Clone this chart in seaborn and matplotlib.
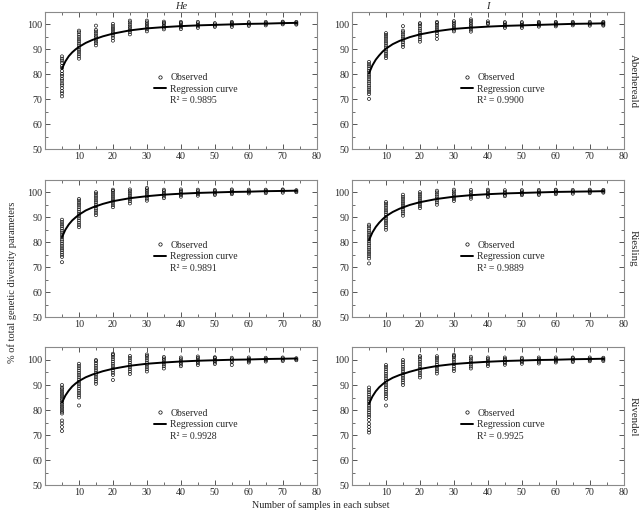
import pandas as pd
import seaborn as sns
import matplotlib.pyplot as plt
from matplotlib.lines import Line2D

# ===============================
# DATA
# ===============================
x_subset = [5, 10, 15, 20, 25, 30, 35, 40, 45, 50, 55, 60, 65, 70, 74]
x_curve = [5, 6, 7, 8, 9, 10, 12, 14, 17, 20, 25, 30, 35, 40, 45, 50, 55, 60, 65, 70, 74]

col_titles = ["He", "I"]
row_labels = ["Aberhereald", "Riesling", "Rivendel"]

# observed values per subset size (one list per x in x_subset)
he_aber_obs = [
    [71.2, 72.4, 73.3, 74.5, 75.6, 76.4, 77.5, 78.3, 79.4, 80.2, 81.3, 82.5, 83.4, 84.6, 85.5, 86.3, 87.2],
    [86.3, 87.2, 88.1, 89.0, 89.8, 90.7, 91.6, 92.4, 93.3, 94.1, 95.0, 95.9, 96.8, 97.5],
    [91.6, 92.5, 93.2, 94.0, 94.8, 95.5, 96.3, 97.1, 97.8, 99.5],
    [93.5, 94.6, 95.5, 96.3, 97.0, 97.8, 98.5, 99.3, 100.2],
    [96.0, 96.9, 97.7, 98.5, 99.2, 100.0, 100.8, 101.5],
    [97.2, 98.0, 98.7, 99.4, 100.1, 100.8, 101.5],
    [98.0, 98.7, 99.3, 100.0, 100.6, 101.1],
    [98.1, 98.8, 99.4, 100.0, 100.6, 101.0],
    [98.6, 99.2, 99.8, 100.4, 101.0],
    [99.0, 99.5, 100.0, 100.5],
    [99.0, 99.6, 100.1, 100.6, 101.0],
    [99.4, 99.9, 100.4, 100.9],
    [99.6, 100.1, 100.6, 101.0],
    [100.0, 100.4, 100.8, 101.1],
    [99.9, 100.3, 100.7, 101.0],
]
i_aber_obs = [
    [70.2, 72.1, 73.0, 73.8, 74.7, 75.5, 76.4, 77.2, 78.1, 79.0, 79.8, 80.7, 81.5, 82.4, 83.3, 84.1, 85.0],
    [86.5, 87.4, 88.2, 89.1, 89.9, 90.8, 91.6, 92.5, 93.3, 94.2, 95.0, 95.8, 96.5],
    [91.0, 91.9, 92.8, 93.6, 94.4, 95.2, 96.0, 96.8, 97.5, 99.3],
    [93.1, 94.0, 94.9, 95.8, 96.6, 97.5, 98.3, 99.2, 100.0, 100.5],
    [94.2, 95.5, 96.5, 97.3, 98.1, 98.9, 99.7, 100.5, 101.0],
    [97.2, 97.9, 98.6, 99.3, 100.0, 100.7, 101.3],
    [97.1, 97.9, 98.6, 99.3, 100.0, 100.7, 101.4, 102.0],
    [100.1, 100.6, 101.2],
    [98.6, 99.2, 99.8, 100.4, 100.9],
    [98.6, 99.2, 99.8, 100.4, 100.9],
    [99.1, 99.6, 100.1, 100.6, 101.0],
    [99.2, 99.7, 100.2, 100.7, 101.0],
    [99.6, 100.1, 100.6, 101.0],
    [99.5, 100.0, 100.5, 101.0],
    [99.5, 99.9, 100.3, 100.7, 101.0],
]
he_ries_obs = [
    [72.0, 74.1, 75.0, 75.9, 76.8, 77.6, 78.5, 79.4, 80.3, 81.1, 82.0, 82.9, 83.8, 84.6, 85.5, 86.4, 87.2, 88.1, 89.0],
    [86.0, 86.9, 87.8, 88.7, 89.6, 90.5, 91.3, 92.2, 93.1, 94.0, 94.9, 95.7, 96.6, 97.3],
    [90.8, 91.7, 92.6, 93.4, 94.3, 95.1, 96.0, 96.8, 97.7, 98.5, 99.4, 100.0],
    [94.0, 94.8, 95.7, 96.5, 97.3, 98.1, 98.9, 99.7, 100.5, 101.0],
    [95.5, 96.4, 97.2, 98.0, 98.8, 99.6, 100.4, 101.1],
    [96.6, 97.4, 98.2, 98.9, 99.7, 100.4, 101.1, 101.7],
    [97.6, 98.3, 99.0, 99.7, 100.4, 101.0],
    [98.2, 98.8, 99.4, 100.0, 100.6, 101.1],
    [98.6, 99.2, 99.8, 100.4, 101.0],
    [98.9, 99.4, 99.9, 100.4, 100.9],
    [99.2, 99.7, 100.2, 100.7, 101.1],
    [99.5, 100.0, 100.5, 101.0],
    [99.6, 100.1, 100.6, 101.0],
    [99.8, 100.3, 100.8, 101.1],
    [100.0, 100.4, 100.8],
]
i_ries_obs = [
    [71.5, 73.5, 74.4, 75.3, 76.1, 77.0, 77.8, 78.7, 79.5, 80.4, 81.2, 82.1, 82.9, 83.8, 84.6, 85.5, 86.3, 87.0],
    [85.0, 85.9, 86.8, 87.7, 88.5, 89.4, 90.2, 91.1, 92.0, 92.8, 93.7, 94.6, 95.4, 96.1],
    [90.6, 91.5, 92.3, 93.1, 94.0, 94.8, 95.6, 96.4, 97.3, 98.1, 99.0],
    [93.6, 94.4, 95.2, 96.0, 96.8, 97.6, 98.4, 99.2, 100.0],
    [95.0, 95.9, 96.7, 97.5, 98.3, 99.1, 99.9, 100.6],
    [96.5, 97.3, 98.0, 98.8, 99.5, 100.3, 101.0],
    [97.4, 98.1, 98.8, 99.5, 100.2, 100.9],
    [98.0, 98.6, 99.2, 99.8, 100.4, 101.0],
    [98.4, 99.0, 99.6, 100.2, 100.8],
    [98.8, 99.3, 99.8, 100.3, 100.8],
    [98.9, 99.4, 99.9, 100.4, 100.9],
    [99.2, 99.7, 100.2, 100.7, 101.0],
    [99.4, 99.9, 100.4, 100.9],
    [99.6, 100.1, 100.6, 101.0],
    [99.8, 100.2, 100.6, 100.9],
]
he_riv_obs = [
    [71.6, 73.2, 74.6, 75.8, 78.6, 79.3, 80.0, 80.8, 81.5, 82.3, 83.0, 83.8, 84.5, 85.3, 86.0, 86.8, 87.5, 88.3, 89.0, 90.0],
    [81.8, 85.0, 85.9, 86.8, 87.7, 88.6, 89.5, 90.4, 91.3, 92.2, 93.1, 94.0, 94.9, 95.8, 96.7, 97.6, 98.5],
    [90.5, 91.4, 92.3, 93.2, 94.1, 95.0, 95.9, 96.8, 97.7, 98.6, 99.5, 100.0],
    [92.0, 94.0, 94.9, 95.8, 96.7, 97.6, 98.5, 99.4, 100.3, 101.2, 102.0, 102.5],
    [94.4, 95.4, 96.3, 97.2, 98.1, 99.0, 99.9, 100.8, 101.6],
    [95.4, 96.3, 97.2, 98.1, 99.0, 99.9, 100.8, 101.6, 102.2],
    [96.6, 97.5, 98.3, 99.1, 99.9, 100.6, 101.2],
    [97.5, 98.2, 98.9, 99.6, 100.3, 101.0],
    [98.0, 98.7, 99.4, 100.1, 100.8, 101.4],
    [98.4, 99.0, 99.6, 100.2, 100.8, 101.1],
    [98.0, 99.1, 99.7, 100.3, 100.9],
    [99.0, 99.5, 100.0, 100.5, 101.0],
    [99.4, 99.9, 100.4, 100.9],
    [99.6, 100.1, 100.6, 101.0],
    [99.9, 100.3, 100.7],
]
i_riv_obs = [
    [71.0, 72.0, 73.3, 74.5, 76.0, 77.2, 78.1, 79.0, 79.9, 80.8, 81.7, 82.6, 83.5, 84.4, 85.3, 86.2, 87.1, 88.0, 89.0],
    [81.8, 84.5, 85.5, 86.4, 87.3, 88.2, 89.1, 90.0, 90.9, 91.8, 92.7, 93.6, 94.5, 95.4, 96.3, 97.2, 98.0],
    [90.0, 91.0, 91.9, 92.8, 93.7, 94.6, 95.5, 96.4, 97.3, 98.2, 99.1, 100.0],
    [93.0, 93.9, 94.8, 95.7, 96.6, 97.5, 98.4, 99.3, 100.2, 101.0, 101.6],
    [94.6, 95.5, 96.4, 97.3, 98.2, 99.1, 100.0, 100.8, 101.5],
    [95.6, 96.5, 97.4, 98.3, 99.2, 100.1, 101.0, 101.6, 102.1],
    [96.6, 97.4, 98.2, 99.0, 99.8, 100.6, 101.3],
    [97.6, 98.3, 99.0, 99.7, 100.4, 101.0],
    [98.1, 98.7, 99.3, 99.9, 100.5, 101.0],
    [98.5, 99.1, 99.7, 100.3, 100.9],
    [98.6, 99.2, 99.8, 100.4, 101.0],
    [99.0, 99.5, 100.0, 100.5, 101.0],
    [99.2, 99.7, 100.2, 100.7, 101.0],
    [99.5, 100.0, 100.5, 101.0],
    [99.6, 100.1, 100.5, 100.9],
]

# fitted regression curves (values at x_curve)
he_aber_fit = [82.3, 85.2, 87.3, 88.8, 90.0, 91.0, 92.6, 93.8, 95.2, 96.3, 97.6, 98.4, 98.9, 99.3, 99.6, 99.8, 100.0, 100.2, 100.3, 100.5, 100.6]
i_aber_fit = [80.4, 83.6, 85.9, 87.6, 89.1, 90.3, 92.1, 93.4, 94.9, 96.0, 97.3, 98.2, 98.7, 99.1, 99.4, 99.6, 99.8, 100.0, 100.2, 100.3, 100.4]
he_ries_fit = [82.0, 85.0, 87.1, 88.7, 89.9, 91.0, 92.7, 93.9, 95.3, 96.4, 97.6, 98.4, 99.0, 99.4, 99.7, 99.9, 100.1, 100.2, 100.4, 100.5, 100.6]
i_ries_fit = [80.8, 83.9, 86.1, 87.8, 89.2, 90.4, 92.1, 93.4, 94.9, 96.0, 97.3, 98.2, 98.8, 99.2, 99.5, 99.7, 99.9, 100.1, 100.2, 100.3, 100.4]
he_riv_fit = [83.0, 85.8, 87.8, 89.4, 90.6, 91.6, 93.1, 94.2, 95.5, 96.5, 97.7, 98.5, 99.0, 99.4, 99.7, 99.9, 100.1, 100.2, 100.4, 100.5, 100.6]
i_riv_fit = [82.5, 85.4, 87.5, 89.1, 90.3, 91.4, 92.9, 94.0, 95.3, 96.4, 97.6, 98.4, 98.9, 99.3, 99.6, 99.8, 100.0, 100.1, 100.3, 100.4, 100.5]

r2_values = [["0.9895", "0.9900"], ["0.9891", "0.9889"], ["0.9928", "0.9925"]]

obs_grid = [[he_aber_obs, i_aber_obs], [he_ries_obs, i_ries_obs], [he_riv_obs, i_riv_obs]]
fit_grid = [[he_aber_fit, i_aber_fit], [he_ries_fit, i_ries_fit], [he_riv_fit, i_riv_fit]]

# ===============================
# STYLE
# ===============================
sns.set_style("ticks")
plt.rcParams["font.family"] = ["Liberation Serif", "DejaVu Serif"]
plt.rcParams["font.size"] = 7
plt.rcParams["axes.edgecolor"] = "#8a8a8a"
plt.rcParams["axes.linewidth"] = 0.8

fig, axes = plt.subplots(3, 2, figsize=(6.43, 5.16), dpi=100)
fig.subplots_adjust(left=0.070, right=0.970, bottom=0.060, top=0.977,
                    wspace=0.13, hspace=0.22)

for r in range(3):
    for c in range(2):
        ax = axes[r, c]
        obs = obs_grid[r][c]
        rows = [(x, v) for x, vals in zip(x_subset, obs) for v in vals]
        df = pd.DataFrame(rows, columns=["n", "pct"])

        sns.scatterplot(data=df, x="n", y="pct", marker="o", s=5,
                        color="none", edgecolor="black", linewidth=0.45,
                        ax=ax, zorder=2)
        sns.lineplot(x=x_curve, y=fit_grid[r][c], color="black", lw=1.4,
                     ax=ax, zorder=3)

        ax.set_xlim(0, 80)
        ax.set_ylim(50, 105)
        ax.set_xticks(range(10, 81, 10))
        ax.set_xticks(range(5, 80, 10), minor=True)
        ax.set_yticks(range(50, 101, 10))
        ax.set_yticks(range(55, 106, 10), minor=True)
        ax.tick_params(which="both", direction="in", top=True, right=True,
                       color="#555555", labelsize=7.2, pad=2)
        ax.tick_params(which="major", length=3.5, width=0.7)
        ax.tick_params(which="minor", length=2.5, width=0.6)
        ax.set_xlabel("")
        ax.set_ylabel("")

        handles = [
            Line2D([], [], marker="o", ls="none", mfc="none", mec="black",
                   ms=2.4, mew=0.5, label="Observed"),
            Line2D([], [], color="black", lw=1.4, label="Regression curve"),
            Line2D([], [], ls="none", label="R² = " + r2_values[r][c]),
        ]
        ax.legend(handles=handles, loc="upper left", bbox_to_anchor=(0.40, 0.555),
                  frameon=False, fontsize=7, handlelength=1.3, handletextpad=0.4,
                  labelspacing=0.25, borderpad=0, borderaxespad=0)

        if r == 0:
            ax.set_title(col_titles[c], fontstyle="italic", fontsize=7.5, pad=2)
        if c == 1:
            ax.text(1.035, 0.5, row_labels[r], transform=ax.transAxes,
                    rotation=270, ha="center", va="center", fontsize=7.8)

fig.text(0.499, 0.021, "Number of samples in each subset", ha="center",
         va="center", fontsize=7.2)
fig.text(0.019, 0.453, "% of total genetic diversity parameters", ha="center",
         va="center", rotation=90, fontsize=7.5)

plt.savefig("out.png", dpi=100)
